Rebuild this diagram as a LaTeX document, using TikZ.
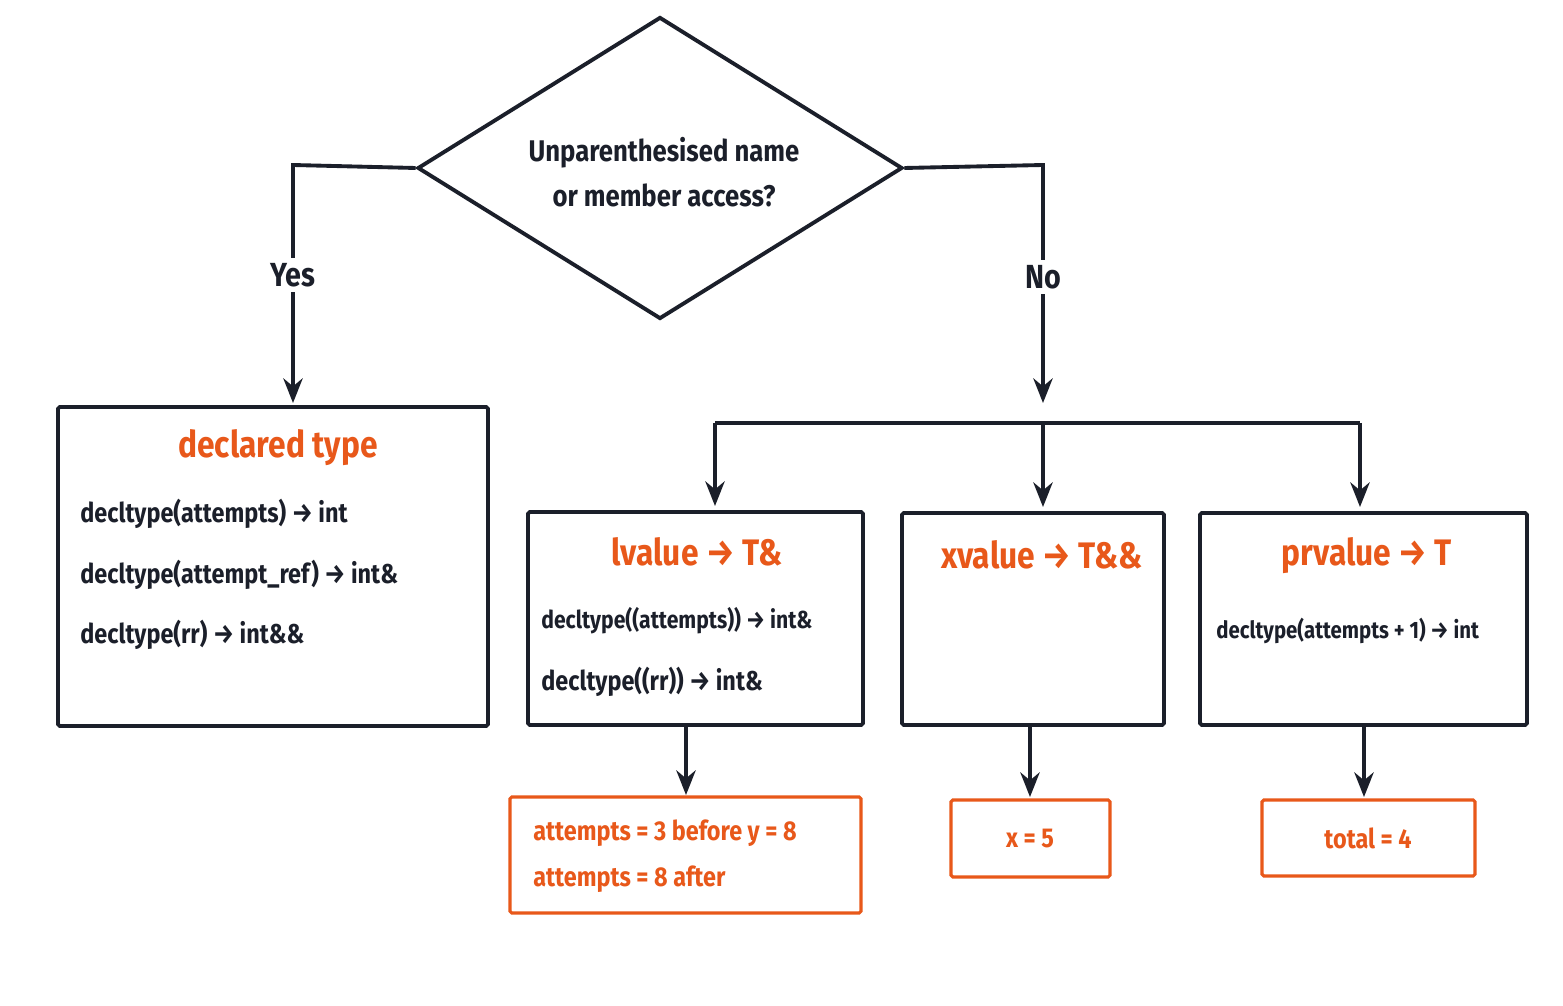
\documentclass[tikz,border=0pt]{standalone}
\usepackage{fontspec}
\setmainfont[FakeStretch=0.86]{Fira Sans}
\usepackage{tikz}
\usetikzlibrary{positioning,shapes.geometric,arrows.meta}
\definecolor{inkdark}{HTML}{1B1F2A}
\definecolor{codeorange}{HTML}{E8581A}
\tikzset{
  flowline/.style={draw=inkdark, line width=2.2pt},
  flowarrow/.style={flowline, -{Stealth[length=14pt,width=11pt]}},
  mainbox/.style={draw=inkdark, line width=2.2pt, rectangle, rounded corners=1pt},
  resultbox/.style={draw=codeorange, line width=1.8pt, rectangle, rounded corners=1pt},
  titletext/.style={text=codeorange, font=\fontsize{21}{25}\selectfont\bfseries, inner sep=0pt},
  codetext/.style={text=inkdark, font=\fontsize{15.5}{19}\selectfont\bfseries, inner sep=0pt, anchor=west},
  restext/.style={text=codeorange, font=\fontsize{15.5}{19}\selectfont\bfseries, inner sep=0pt},
  branchlabel/.style={text=inkdark, font=\fontsize{19}{22}\selectfont\bfseries, fill=white, inner sep=3pt}
}
\begin{document}
\begin{tikzpicture}[x=0.02cm, y=-0.02cm]

	% Proper size --- Bounding box
	\useasboundingbox[fill=white] (0,0) rectangle (1563,1006);

	% Decision
	\node[diamond, draw=inkdark, line width=2.2pt, minimum width=485\pgflinewidth/2.2*0.02/0.0773, aspect=1.6, inner sep=0pt,
	      minimum width=9.7cm, minimum height=6.04cm] (D) at (660,168) {};
	\node[align=center, text=inkdark, font=\fontsize{17}{25.5}\selectfont\bfseries] (Dtext) at (664,172)
	      {Unparenthesised name\\or member access?};

	% Boxes
	\path (58,407) coordinate (A0) (488,726) coordinate (A1);
	\draw[mainbox] (A0) rectangle (A1);
	\path (528,512) coordinate (L0) (863,725) coordinate (L1);
	\draw[mainbox] (L0) rectangle (L1);
	\path (902,513) coordinate (X0) (1164,725) coordinate (X1);
	\draw[mainbox] (X0) rectangle (X1);
	\path (1200,513) coordinate (P0) (1527,725) coordinate (P1);
	\draw[mainbox] (P0) rectangle (P1);

	\path (510,797) coordinate (RL0) (861,913) coordinate (RL1);
	\draw[resultbox] (RL0) rectangle (RL1);
	\path (951,800) coordinate (RX0) (1110,877) coordinate (RX1);
	\draw[resultbox] (RX0) rectangle (RX1);
	\path (1262,800) coordinate (RP0) (1475,876) coordinate (RP1);
	\draw[resultbox] (RP0) rectangle (RP1);

	% Texts
	\node[titletext] (Atitle) at (278,448) {declared type};
	\node[codetext] (A1t) at (80,514) {decltype(attempts) → int};
	\node[codetext] (A2t) at (80,575) {decltype(attempt\_ref) → int\&};
	\node[codetext] (A3t) at (80,635) {decltype(rr) → int\&\&};

	\node[titletext] (Ltitle) at (697,552) {lvalue → T\&};
	\node[codetext, font=\fontsize{14}{17}\selectfont\bfseries] (L1t) at (541,621) {decltype((attempts)) → int\&};
	\node[codetext] (L2t) at (541,682) {decltype((rr)) → int\&};

	\node[titletext] (Xtitle) at (1042,555) {xvalue → T\&\&};

	\node[titletext] (Ptitle) at (1367,556) {prvalue → T};
	\node[codetext, font=\fontsize{13.5}{17}\selectfont\bfseries] (P1t) at (1216,631) {decltype(attempts + 1) → int};

	\node[restext, anchor=west] (R1t) at (533,833) {attempts = 3 before y = 8};
	\node[restext, anchor=west] (R2t) at (533,879) {attempts = 8 after};
	\node[restext] (RXt) at (1030,839) {x = 5};
	\node[restext] (RPt) at (1368,838) {total = 4};

	% Connectors
	\coordinate (YesTop) at (293,165);
	\coordinate (YesEnd) at (293,403);
	\coordinate (NoTop) at (1043,165);
	\coordinate (Split) at (1043,423);
	\coordinate (SplitL) at (715,423);
	\coordinate (SplitR) at (1360,423);
	\draw[flowarrow] (D.west) -- (YesTop) -- (YesEnd);
	\draw[flowarrow] (D.east) -- (NoTop) -- (1043,403);
	\draw[flowline] (SplitL) -- (SplitR);
	\draw[flowarrow] (SplitL) -- (715,506);
	\draw[flowarrow] (Split) -- (1043,507);
	\draw[flowarrow] (SplitR) -- (1360,507);
	\node[branchlabel] (Yes) at (293,275) {Yes};
	\node[branchlabel] (No) at (1043,277) {No};

	\draw[flowarrow] (686,725) -- (686,795);
	\draw[flowarrow] (1030,725) -- (1030,797);
	\draw[flowarrow] (1364,725) -- (1364,797);

\end{tikzpicture}
\end{document}
